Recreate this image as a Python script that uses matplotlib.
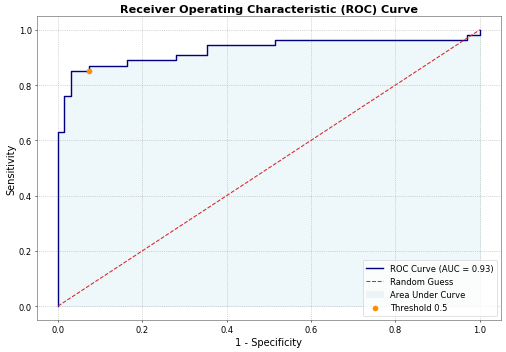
import matplotlib
matplotlib.use("Agg")
import matplotlib.pyplot as plt

fpr = [0.0, 0.0, 0.014, 0.014, 0.03, 0.03, 0.074, 0.074, 0.163, 0.163, 0.28, 0.28,
       0.353, 0.353, 0.514, 0.514, 0.963, 0.97, 0.97, 1.0, 1.0]
tpr = [0.0, 0.63, 0.63, 0.759, 0.759, 0.852, 0.852, 0.87, 0.87, 0.889, 0.889, 0.907,
       0.907, 0.944, 0.944, 0.963, 0.963, 0.963, 0.981, 0.981, 1.0]
auc_value = 0.93
thr_fpr = 0.074
thr_tpr = 0.852

fig, ax = plt.subplots(figsize=(10, 6.976), dpi=50.6)
fig.subplots_adjust(left=0.073, right=0.99, top=0.952, bottom=0.091)

ax.plot(fpr, tpr, color="navy", lw=2, label=f"ROC Curve (AUC = {auc_value:.2f})")
ax.plot([0, 1], [0, 1], color="#d62728", lw=1.5, ls="--", label="Random Guess")
ax.fill_between(fpr, tpr, color="lightblue", alpha=0.2, label="Area Under Curve")
ax.scatter([thr_fpr], [thr_tpr], color="darkorange", s=50, zorder=5, label="Threshold 0.5")

ax.set_xlim(-0.05, 1.05)
ax.set_ylim(-0.05, 1.05)
ax.set_xticks([0, 0.2, 0.4, 0.6, 0.8, 1.0])
ax.set_yticks([0, 0.2, 0.4, 0.6, 0.8, 1.0])
ax.tick_params(labelsize=12)
ax.grid(True, ls=":", color="gray", alpha=0.6, lw=1)
ax.set_xlabel("1 - Specificity", fontsize=14)
ax.set_ylabel("Sensitivity", fontsize=14)
ax.set_title("Receiver Operating Characteristic (ROC) Curve", fontsize=16, fontweight="bold")
ax.legend(loc="lower right", fontsize=12)
for s in ax.spines.values():
    s.set_color("#555555")

fig.savefig("out.png", dpi=50.6)
